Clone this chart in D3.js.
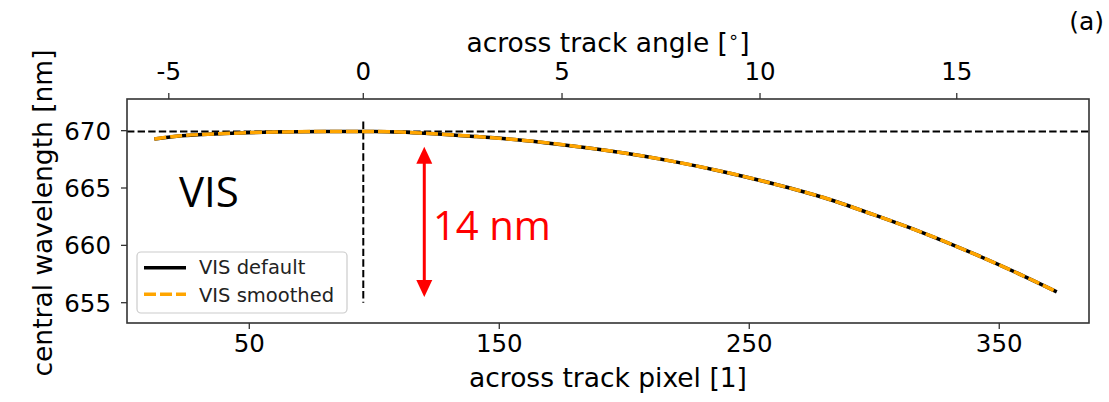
<!DOCTYPE html>
<html>
<head>
<meta charset="utf-8">
<script src="https://cdn.jsdelivr.net/npm/d3@7.9.0/dist/d3.min.js"></script>
<style>
  body { margin: 0; background: #fff; }
  svg { display: block; }
  text { font-family: "DejaVu Sans", sans-serif; fill: #000; }
</style>
</head>
<body>
<svg id="chart" width="1109" height="402"></svg>
<script>
// across track pixel and central wavelength
const pixels = [12, 20, 40, 60, 80, 100, 120, 140, 160, 180, 200, 220, 240, 260, 280, 300, 320, 340, 360, 373];
const wavelength = [669.28, 669.5, 669.75, 669.88, 669.93, 669.93, 669.78, 669.5, 669.15, 668.65,
  668.05, 667.3, 666.4, 665.35, 664.15, 662.65, 661.05, 659.25, 657.3, 655.95];

const pixelTicks = [50, 150, 250, 350];
const wlTicks = [655, 660, 665, 670];
// top axis: angle labels and the pixel they sit on
const angleTicks = [-5, 0, 5, 10, 15];
const anglePixel = [17.8, 95.6, 175.1, 254.3, 333.0];

const nadirPixel = 95.6;
const refWl = 669.93;
const arrowPixel = 120;
const arrowWl = [668.6, 655.5];

const svg = d3.select("#chart");
const pLeft = 127, pRight = 1089, pTop = 99, pBottom = 323;

const x = d3.scaleLinear().domain([1.08, 385.9]).range([pLeft, pRight]);
const y = d3.scaleLinear().domain([653.23, 672.76]).range([pBottom, pTop]);

// reference lines
svg.append("line")
  .attr("x1", pLeft).attr("x2", pRight)
  .attr("y1", y(refWl)).attr("y2", y(refWl))
  .attr("stroke", "#000").attr("stroke-width", 2)
  .attr("stroke-dasharray", "7.4,3.2");
svg.append("line")
  .attr("x1", x(nadirPixel)).attr("x2", x(nadirPixel))
  .attr("y1", y(670.8)).attr("y2", y(655))
  .attr("stroke", "#000").attr("stroke-width", 2)
  .attr("stroke-dasharray", "7.4,3.2");

// curves
const line = d3.line().x((d, i) => x(pixels[i])).y(d => y(d)).curve(d3.curveMonotoneX);
svg.append("path").attr("d", line(wavelength))
  .attr("fill", "none").attr("stroke", "#000").attr("stroke-width", 3.5);
svg.append("path").attr("d", line(wavelength))
  .attr("fill", "none").attr("stroke", "orange").attr("stroke-width", 3.5)
  .attr("stroke-dasharray", "12,4");

// frame
svg.append("rect")
  .attr("x", pLeft).attr("y", pTop)
  .attr("width", pRight - pLeft).attr("height", pBottom - pTop)
  .attr("fill", "none").attr("stroke", "#333").attr("stroke-width", 1.6);

// bottom axis
pixelTicks.forEach(t => {
  svg.append("line").attr("x1", x(t)).attr("x2", x(t))
    .attr("y1", pBottom).attr("y2", pBottom + 6).attr("stroke", "#333").attr("stroke-width", 1.3);
  svg.append("text").attr("x", x(t)).attr("y", 352)
    .attr("text-anchor", "middle").attr("font-size", 24.5).text(t);
});
svg.append("text").attr("x", (pLeft + pRight) / 2).attr("y", 387)
  .attr("text-anchor", "middle").attr("font-size", 26.5).text("across track pixel [1]");

// top axis
angleTicks.forEach((t, i) => {
  const px = x(anglePixel[i]);
  svg.append("line").attr("x1", px).attr("x2", px)
    .attr("y1", pTop).attr("y2", pTop - 6).attr("stroke", "#333").attr("stroke-width", 1.3);
  svg.append("text").attr("x", px).attr("y", 80)
    .attr("text-anchor", "middle").attr("font-size", 24.5).text(t);
});
const tl = svg.append("text").attr("x", (pLeft + pRight) / 2).attr("y", 52)
  .attr("text-anchor", "middle").attr("font-size", 26.5);
tl.append("tspan").text("across track angle [");
tl.append("tspan").attr("font-size", 18).attr("dy", -9).text("∘");
tl.append("tspan").attr("dy", 9).text("]");

// left axis
wlTicks.forEach(t => {
  svg.append("line").attr("x1", pLeft - 6).attr("x2", pLeft)
    .attr("y1", y(t)).attr("y2", y(t)).attr("stroke", "#333").attr("stroke-width", 1.3);
  svg.append("text").attr("x", 111).attr("y", y(t) + 9)
    .attr("text-anchor", "end").attr("font-size", 24.5).text(t);
});
svg.append("text")
  .attr("transform", "translate(52,213) rotate(-90)")
  .attr("text-anchor", "middle").attr("font-size", 26.5).text("central wavelength [nm]");

// annotations
svg.append("text").attr("x", 179).attr("y", 207)
  .style("font-family", "'Open Sans', sans-serif").attr("font-size", 42).text("VIS");

const ax = x(arrowPixel), ay1 = y(arrowWl[0]), ay2 = y(arrowWl[1]);
svg.append("line").attr("x1", ax).attr("x2", ax)
  .attr("y1", ay1 + 14).attr("y2", ay2 - 14)
  .attr("stroke", "red").attr("stroke-width", 3);
svg.append("path")
  .attr("d", `M${ax},${ay1} L${ax - 8},${ay1 + 17} L${ax + 8},${ay1 + 17} Z`)
  .attr("fill", "red");
svg.append("path")
  .attr("d", `M${ax},${ay2} L${ax - 8},${ay2 - 17} L${ax + 8},${ay2 - 17} Z`)
  .attr("fill", "red");
svg.append("text").attr("x", 433).attr("y", 240)
  .style("font-family", "'Open Sans', sans-serif").style("fill", "red")
  .attr("font-size", 40).text("14 nm");

svg.append("text").attr("x", 1104).attr("y", 30)
  .attr("text-anchor", "end").attr("font-size", 25).text("(a)");

// legend
const lg = svg.append("g");
lg.append("rect").attr("x", 137).attr("y", 252).attr("width", 210).attr("height", 61)
  .attr("rx", 4).attr("fill", "#fff").attr("fill-opacity", 0.8)
  .attr("stroke", "#ccc").attr("stroke-width", 1.2);
lg.append("line").attr("x1", 144).attr("x2", 186).attr("y1", 267.7).attr("y2", 267.7)
  .attr("stroke", "#000").attr("stroke-width", 3.5);
lg.append("line").attr("x1", 144).attr("x2", 186).attr("y1", 294.3).attr("y2", 294.3)
  .attr("stroke", "orange").attr("stroke-width", 3.5).attr("stroke-dasharray", "12,4");
lg.append("text").attr("x", 199).attr("y", 274.3).attr("font-size", 19.5).style("fill", "#222").text("VIS default");
lg.append("text").attr("x", 199).attr("y", 302.3).attr("font-size", 19.5).style("fill", "#222").text("VIS smoothed");
</script>
</body>
</html>
